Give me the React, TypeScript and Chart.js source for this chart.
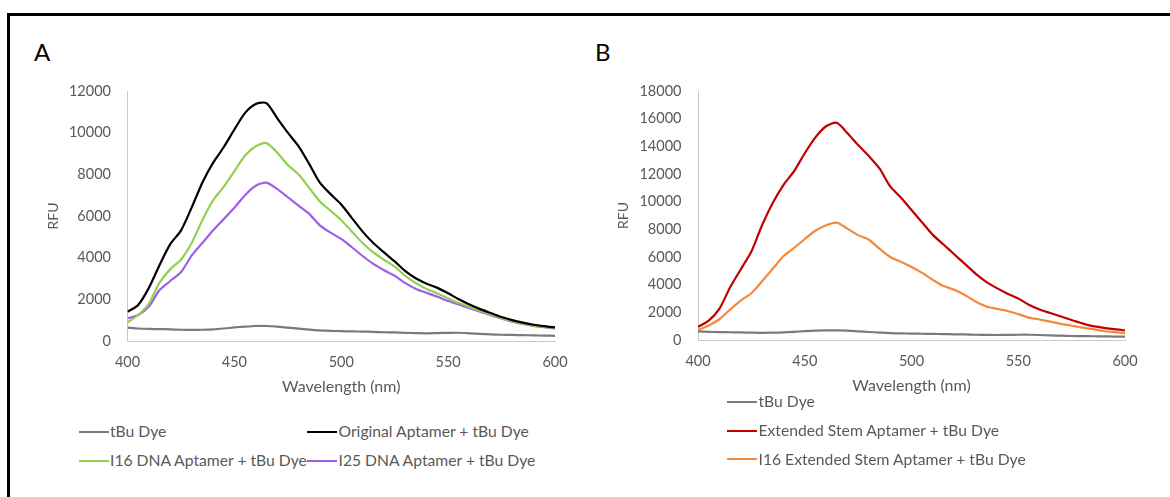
import React, { useEffect, useRef } from 'react';
import { Chart, registerables } from 'chart.js';

Chart.register(...registerables);

// ---------- data ----------
const WAVELENGTHS = [
  400, 405, 410, 415, 420, 425, 430, 435, 440, 445, 450, 455, 460, 465, 470, 475, 480, 485, 490, 495,
  500, 505, 510, 515, 520, 525, 530, 535, 540, 545, 550, 555, 560, 565, 570, 575, 580, 585, 590, 595, 600,
];

const A_TBU_DYE = [
  640, 600, 580, 570, 560, 540, 530, 540, 560, 600, 650, 690, 720, 720, 690, 640, 590, 550, 510, 490,
  470, 460, 450, 440, 420, 410, 390, 380, 370, 380, 390, 395, 370, 340, 320, 300, 290, 280, 270, 260, 250,
];
const A_ORIGINAL = [
  1400, 1730, 2550, 3650, 4650, 5300, 6400, 7600, 8550, 9300, 10150, 10950, 11380, 11420, 10700, 10000, 9350, 8500, 7600, 7050,
  6550, 5900, 5250, 4700, 4250, 3820, 3350, 3000, 2750, 2550, 2290, 2000, 1750, 1530, 1340, 1150, 1000, 880, 780, 710, 650,
];
const A_I16_DNA = [
  900, 1250, 1800, 2800, 3450, 3900, 4700, 5800, 6750, 7400, 8150, 8900, 9350, 9500, 9050, 8450, 8000, 7350, 6700, 6250,
  5800, 5250, 4700, 4250, 3900, 3570, 3120, 2770, 2500, 2280, 2050, 1820, 1630, 1450, 1270, 1100, 950, 830, 740, 680, 620,
];
const A_I25_DNA = [
  1090, 1250, 1650, 2450, 2880, 3300, 4100, 4700, 5300, 5850, 6400, 7000, 7450, 7600, 7300, 6900, 6500, 6100, 5550, 5200,
  4900, 4500, 4080, 3700, 3400, 3130, 2780, 2500, 2310, 2120, 1920, 1750, 1570, 1410, 1240, 1080, 930, 820, 730, 660, 600,
];

const B_TBU_DYE = [
  620, 590, 570, 560, 550, 530, 520, 530, 550, 590, 640, 680, 700, 700, 680, 630, 580, 540, 500, 480,
  460, 450, 440, 430, 410, 400, 380, 370, 360, 370, 380, 380, 360, 330, 310, 290, 280, 270, 260, 250, 240,
];
const B_EXTENDED = [
  950, 1400, 2250, 3800, 5100, 6400, 8300, 9900, 11200, 12200, 13500, 14650, 15450, 15700, 14950, 14100, 13300, 12400, 11100, 10300,
  9400, 8500, 7600, 6900, 6200, 5500, 4800, 4200, 3750, 3350, 3000, 2550, 2200, 1950, 1700, 1450, 1200, 1000, 880, 780, 700,
];
const B_I16_EXTENDED = [
  720, 1050, 1500, 2200, 2850, 3380, 4250, 5150, 6050, 6650, 7300, 7900, 8300, 8480, 8050, 7580, 7250, 6600, 6000, 5650,
  5280, 4850, 4350, 3900, 3630, 3250, 2780, 2420, 2250, 2100, 1870, 1620, 1480, 1330, 1170, 1030, 900, 780, 650, 570, 500,
];

const X_TITLE = 'Wavelength (nm)';
const Y_TITLE = 'RFU';

// ---------- styles ----------
const FONT = 'Lato, "Open Sans", "DejaVu Sans", sans-serif';
const TEXT_GRAY = '#595959';
const AXIS_GRAY = '#c9c9c9';
const C_GRAY = '#7a7a7a';
const C_BLACK = '#000000';
const C_GREEN = '#92d050';
const C_PURPLE = '#9e5fe8';
const C_RED = '#c00000';
const C_ORANGE = '#f4893b';

type Series = { label: string; values: number[]; color: string };

const SERIES_A: Series[] = [
  { label: 'tBu Dye', values: A_TBU_DYE, color: C_GRAY },
  { label: 'Original Aptamer + tBu Dye', values: A_ORIGINAL, color: C_BLACK },
  { label: 'I16 DNA Aptamer + tBu Dye', values: A_I16_DNA, color: C_GREEN },
  { label: 'I25 DNA Aptamer + tBu Dye', values: A_I25_DNA, color: C_PURPLE },
];
const SERIES_B: Series[] = [
  { label: 'tBu Dye', values: B_TBU_DYE, color: C_GRAY },
  { label: 'Extended Stem Aptamer + tBu Dye', values: B_EXTENDED, color: C_RED },
  { label: 'I16 Extended Stem Aptamer + tBu Dye', values: B_I16_EXTENDED, color: C_ORANGE },
];

type PanelProps = {
  series: Series[];
  yMax: number;
  left: number;
  yAxisWidth: number;
  yTitlePad: number;
  padRight: number;
  padBottom: number;
};

function SpectrumChart({ series, yMax, left, yAxisWidth, yTitlePad, padRight, padBottom }: PanelProps) {
  const ref = useRef<HTMLCanvasElement | null>(null);
  useEffect(() => {
    if (!ref.current) return;
    const chart = new Chart(ref.current, {
      type: 'line',
      data: {
        datasets: series.map((s) => ({
          label: s.label,
          data: WAVELENGTHS.map((x, i) => ({ x, y: s.values[i] })),
          borderColor: s.color,
          backgroundColor: s.color,
          borderWidth: 2.2,
          pointRadius: 0,
          tension: 0.25,
          fill: false,
        })),
      },
      options: {
        animation: false,
        responsive: false,
        maintainAspectRatio: false,
        events: [],
        layout: { padding: { left: 0, top: 91, right: padRight, bottom: padBottom } },
        plugins: { legend: { display: false }, tooltip: { enabled: false }, title: { display: false } },
        scales: {
          x: {
            type: 'linear',
            min: 400,
            max: 600,
            grid: { display: false, drawTicks: false, tickLength: 0 },
            border: { display: true, color: AXIS_GRAY, width: 1 },
            ticks: {
              stepSize: 50,
              padding: 12.5,
              color: TEXT_GRAY,
              font: { family: FONT, size: 14.5 },
              maxRotation: 0,
              autoSkip: false,
              callback: (v: any) => String(v),
            },
            title: {
              display: true,
              text: X_TITLE,
              color: TEXT_GRAY,
              font: { family: FONT, size: 16 },
              padding: { top: 0, bottom: 2.6 },
            },
            afterFit: (s: any) => {
              s.height = 58;
            },
          },
          y: {
            min: 0,
            max: yMax,
            grid: { display: false, drawTicks: false, tickLength: 0 },
            border: { display: true, color: AXIS_GRAY, width: 1 },
            ticks: {
              stepSize: 2000,
              padding: 16.5,
              color: TEXT_GRAY,
              font: { family: FONT, size: 14.5 },
              callback: (v: any) => String(v),
            },
            title: {
              display: true,
              text: Y_TITLE,
              color: TEXT_GRAY,
              font: { family: FONT, size: 14 },
              padding: { top: yTitlePad, bottom: 0 },
            },
            afterFit: (s: any) => {
              s.width = yAxisWidth;
            },
          },
        },
      } as any,
    });
    return () => chart.destroy();
  }, []);
  return (
    <canvas
      ref={ref}
      width={585}
      height={420}
      style={{ position: 'absolute', left, top: 0, width: 585, height: 420 }}
    />
  );
}

type LegendItem = { series: Series; x: number; y: number };

function Legend({ items }: { items: LegendItem[] }) {
  return (
    <>
      {items.map((it, i) => (
        <div key={i}>
          <div
            style={{
              position: 'absolute',
              left: it.x,
              top: it.y - 1,
              width: 30,
              height: 2,
              background: it.series.color,
            }}
          />
          <div
            style={{
              position: 'absolute',
              left: it.x + 31.5,
              top: it.y - 8.3,
              fontFamily: FONT,
              fontSize: 15.7,
              lineHeight: '16px',
              color: TEXT_GRAY,
              whiteSpace: 'nowrap',
            }}
          >
            {it.series.label}
          </div>
        </div>
      ))}
    </>
  );
}

export default function App() {
  const legendA: LegendItem[] = [
    { series: SERIES_A[0], x: 78.5, y: 431.7 },
    { series: SERIES_A[1], x: 307, y: 431.7 },
    { series: SERIES_A[2], x: 78.5, y: 460.7 },
    { series: SERIES_A[3], x: 307, y: 460.7 },
  ];
  const legendB: LegendItem[] = [
    { series: SERIES_B[0], x: 727, y: 401.7 },
    { series: SERIES_B[1], x: 727, y: 430.7 },
    { series: SERIES_B[2], x: 727, y: 459.3 },
  ];
  return (
    <div
      style={{
        position: 'absolute',
        left: 0,
        top: 0,
        width: 1170,
        height: 497,
        overflow: 'hidden',
        background: '#ffffff',
      }}
    >
      <div
        style={{
          position: 'absolute',
          left: 7,
          top: 13,
          right: -10,
          bottom: -10,
          borderTop: '3px solid #000',
          borderLeft: '3px solid #000',
        }}
      />
      <div style={{ position: 'absolute', left: 34, top: 39.6, fontFamily: FONT, fontSize: 24, lineHeight: '23px', color: '#000' }}>
        A
      </div>
      <div style={{ position: 'absolute', left: 595, top: 39.6, fontFamily: FONT, fontSize: 24, lineHeight: '23px', color: '#000' }}>
        B
      </div>
      <SpectrumChart series={SERIES_A} yMax={12000} left={0} yAxisWidth={127.5} yTitlePad={44.9} padRight={30} padBottom={21} />
      <SpectrumChart series={SERIES_B} yMax={18000} left={585} yAxisWidth={113} yTitlePad={29.9} padRight={45} padBottom={22} />
      <Legend items={legendA} />
      <Legend items={legendB} />
    </div>
  );
}
